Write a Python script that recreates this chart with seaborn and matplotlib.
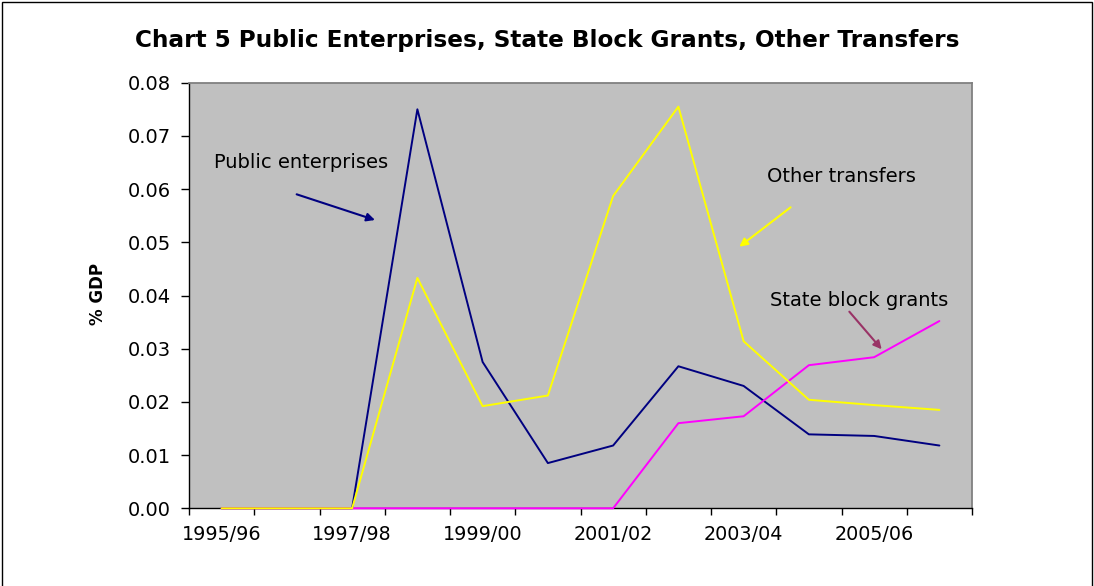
import matplotlib
matplotlib.use("Agg")
import matplotlib.pyplot as plt
import seaborn as sns
import pandas as pd
from matplotlib.patches import Rectangle

years = ["1995/96", "1996/97", "1997/98", "1998/99", "1999/00", "2000/01",
         "2001/02", "2002/03", "2003/04", "2004/05", "2005/06", "2006/07"]
public_enterprises = [0.0, 0.0, 0.0, 0.0750, 0.0275, 0.0085, 0.0118, 0.0267,
                      0.0230, 0.0139, 0.0136, 0.0118]
state_block_grants = [0.0, 0.0, 0.0, 0.0, 0.0, 0.0, 0.0, 0.0160,
                      0.0173, 0.0269, 0.0284, 0.0352]
other_transfers = [0.0, 0.0, 0.0, 0.0433, 0.0192, 0.0212, 0.0587, 0.0755,
                   0.0314, 0.0204, 0.0194, 0.0185]
y_ticks = [0.00, 0.01, 0.02, 0.03, 0.04, 0.05, 0.06, 0.07, 0.08]

series_names = ["Public enterprises", "State block grants", "Other transfers"]
series_values = [public_enterprises, state_block_grants, other_transfers]
colors = {"Public enterprises": "#000080",
          "State block grants": "#FF00FF",
          "Other transfers": "#FFFF00"}

rows = []
for name, vals in zip(series_names, series_values):
    for i, v in enumerate(vals):
        rows.append({"idx": i, "year": years[i], "series": name, "value": v})
df = pd.DataFrame(rows)

sns.set_style("white")
plt.rcParams["font.family"] = ["DejaVu Sans"]
plt.rcParams["text.color"] = "black"
plt.rcParams["axes.labelcolor"] = "black"
plt.rcParams["xtick.color"] = "black"
plt.rcParams["ytick.color"] = "black"

fig = plt.figure(figsize=(10.94, 5.86), dpi=100)
fig.patch.set_facecolor("white")
ax = fig.add_axes([189 / 1094, 1 - 508.3 / 586, (972 - 189) / 1094, (508.3 - 82.7) / 586])
ax.set_facecolor("#C0C0C0")

sns.lineplot(data=df, x="idx", y="value", hue="series", hue_order=series_names,
             palette=colors, linewidth=1.4, legend=False, estimator=None,
             sort=False, ax=ax)
for ln in ax.get_lines():
    ln.set_clip_on(False)
    ln.set_zorder(3)

ax.set_xlim(-0.5, len(years) - 0.5)
ax.set_ylim(0, 0.08)
ax.set_yticks(y_ticks)
ax.set_yticklabels([f"{t:.2f}" for t in y_ticks])
ax.set_xticks(range(0, len(years), 2))
ax.set_xticklabels(years[::2])
ax.set_xticks([i - 0.5 for i in range(len(years) + 1)], minor=True)
ax.tick_params(axis="x", which="major", length=0, pad=12, labelsize=13.8,
               labelcolor="black")
ax.tick_params(axis="x", which="minor", length=5, width=1, color="black", direction="out",
               bottom=True)
ax.tick_params(axis="y", which="major", length=6, width=1, pad=7, labelsize=14,
               color="black", labelcolor="black", direction="out", left=True)
ax.set_xlabel("")
ax.set_ylabel("")
ax.grid(False)

for side in ["left", "bottom"]:
    ax.spines[side].set_color("black")
    ax.spines[side].set_linewidth(1.0)
for side in ["top", "right"]:
    ax.spines[side].set_color("#808080")
    ax.spines[side].set_linewidth(1.3)
    ax.spines[side].set_visible(True)

fig.text(0.5005, 1 - 41 / 586,
         "Chart 5 Public Enterprises, State Block Grants, Other Transfers",
         ha="center", va="center", fontsize=16.7, fontweight="bold", color="black")
fig.text(98 / 1094, 1 - 294 / 586, "% GDP", rotation=90, ha="center", va="center",
         fontsize=12, fontweight="bold", color="black")

# annotations
ax.text(1.224, 0.06496, "Public enterprises", ha="center", va="center", fontsize=14,
        color="black")
ax.annotate("", xy=(2.35, 0.05419), xytext=(1.15, 0.05902),
            arrowprops=dict(arrowstyle="-|>", color="#000080", lw=1.5, mutation_scale=12,
                            shrinkA=0, shrinkB=0))
ax.text(9.503, 0.06233, "Other transfers", ha="center", va="center", fontsize=14,
        color="black")
ax.annotate("", xy=(7.934, 0.04917), xytext=(8.72, 0.05658),
            arrowprops=dict(arrowstyle="-|>", color="#FFFF00", lw=1.5, mutation_scale=12,
                            shrinkA=0, shrinkB=0))
ax.text(9.771, 0.03915, "State block grants", ha="center", va="center", fontsize=14,
        color="black")
ax.annotate("", xy=(10.116, 0.02989), xytext=(9.62, 0.03696),
            arrowprops=dict(arrowstyle="-|>", color="#993366", lw=1.5, mutation_scale=12,
                            shrinkA=0, shrinkB=0))

fig.add_artist(Rectangle((1.5 / 1094, -0.01), 1090.5 / 1094, 1.01 - 1.5 / 586,
                         transform=fig.transFigure, fill=False, edgecolor="black",
                         linewidth=1.0, clip_on=False))

fig.savefig("out.png", dpi=100)
